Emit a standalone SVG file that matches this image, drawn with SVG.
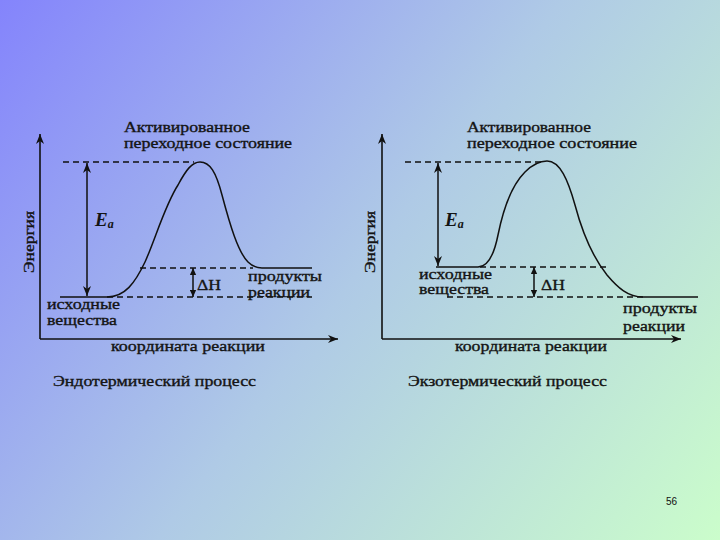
<svg xmlns="http://www.w3.org/2000/svg" width="720" height="540" viewBox="0 0 720 540">
<defs>
<linearGradient id="bg" x1="0" y1="0" x2="720" y2="540" gradientUnits="userSpaceOnUse">
<stop offset="0" stop-color="#8484fc"/>
<stop offset="0.5" stop-color="#afcae6"/>
<stop offset="1" stop-color="#cbfdcb"/>
</linearGradient>
<marker id="ah" viewBox="0 0 10 10" refX="10" refY="5" markerWidth="10" markerHeight="10" markerUnits="userSpaceOnUse" orient="auto-start-reverse">
<path d="M0,1 L10,5 L0,9 L3,5 Z" fill="#111"/>
</marker>
<marker id="sh" viewBox="0 0 10 10" refX="10" refY="5" markerWidth="9" markerHeight="7" markerUnits="userSpaceOnUse" orient="auto-start-reverse">
<path d="M0,0.5 L10,5 L0,9.5 Z" fill="#111"/>
</marker>
</defs>
<style>
.t{font-family:"Liberation Serif","DejaVu Serif",serif;font-size:15px;fill:#141414;stroke:#141414;stroke-width:0.35}
.ax{stroke:#111;stroke-width:1.6;fill:none}
.sol{stroke:#111;stroke-width:1.5;fill:none}
.dash{stroke:#111;stroke-width:1.3;fill:none;stroke-dasharray:6 4}
.ea{font-family:"Liberation Serif","DejaVu Serif",serif;font-weight:bold;font-style:italic;fill:#141414}
</style>
<rect width="720" height="540" fill="url(#bg)"/>

<g id="connectors">
<line class="ax" x1="40" y1="339" x2="40" y2="134" marker-end="url(#ah)"/>
<line class="ax" x1="40" y1="339" x2="338" y2="339" marker-end="url(#ah)"/>
<line class="dash" x1="63" y1="162" x2="194" y2="162"/>
<line class="dash" x1="140" y1="268" x2="253" y2="268"/>
<line class="dash" x1="107" y1="297" x2="312" y2="297"/>
<path class="sol" d="M60,297 L107,297 C125,297 135,283 145,262 C155,240 165,205 178,185 C186,170 192,162 200,162 C210,162 216,172 222,195 C230,225 238,252 248,262 C253,267 258,268 262,268 L312,268"/>
<line class="sol" x1="87" y1="163" x2="87" y2="296" marker-start="url(#ah)" marker-end="url(#ah)"/>
<line class="sol" x1="193" y1="268" x2="193" y2="297" marker-start="url(#sh)" marker-end="url(#sh)"/>
<line class="ax" x1="382" y1="339" x2="382" y2="134" marker-end="url(#ah)"/>
<line class="ax" x1="382" y1="339" x2="681" y2="339" marker-end="url(#ah)"/>
<line class="dash" x1="405" y1="162" x2="542" y2="162"/>
<line class="dash" x1="480" y1="267" x2="608" y2="267"/>
<line class="dash" x1="447" y1="297" x2="643" y2="297"/>
<path class="sol" d="M436,267 L478,267 C488,267 494,255 498,235 C503,210 512,185 525,172 C533,164 540,161 547,161 C560,161 568,180 575,205 C583,235 595,260 607,275 C618,288 628,297 643,297 L698,297"/>
<line class="sol" x1="438" y1="163" x2="438" y2="266" marker-start="url(#ah)" marker-end="url(#ah)"/>
<line class="sol" x1="534" y1="267" x2="534" y2="297" marker-start="url(#sh)" marker-end="url(#sh)"/>
</g>

<g id="endo">
<text class="t" x="124" y="132" textLength="126" lengthAdjust="spacingAndGlyphs">Активированное</text>
<text class="t" x="124" y="148" textLength="168" lengthAdjust="spacingAndGlyphs">переходное состояние</text>
<text class="t" font-size="16" transform="translate(34,242) rotate(-90)" text-anchor="middle" textLength="62" lengthAdjust="spacingAndGlyphs">Энергия</text>
<text class="ea" x="95" y="226" font-size="19">E<tspan font-size="12" dy="2">a</tspan></text>
<text class="t" font-size="18" x="197" y="290" textLength="24" lengthAdjust="spacingAndGlyphs">ΔH</text>
<text class="t" x="248" y="281" textLength="74" lengthAdjust="spacingAndGlyphs">продукты</text>
<text class="t" x="248" y="297" textLength="62" lengthAdjust="spacingAndGlyphs">реакции</text>
<text class="t" x="47" y="309" textLength="73" lengthAdjust="spacingAndGlyphs">исходные</text>
<text class="t" x="47" y="325" textLength="70" lengthAdjust="spacingAndGlyphs">вещества</text>
<text class="t" font-size="16" x="111" y="351" textLength="154" lengthAdjust="spacingAndGlyphs">координата реакции</text>
<text class="t" font-size="16" x="53" y="386" textLength="203" lengthAdjust="spacingAndGlyphs">Эндотермический процесс</text>
</g>

<g id="exo">
<text class="t" x="467" y="132" textLength="124" lengthAdjust="spacingAndGlyphs">Активированное</text>
<text class="t" x="467" y="148" textLength="170" lengthAdjust="spacingAndGlyphs">переходное состояние</text>
<text class="t" font-size="16" transform="translate(375,242) rotate(-90)" text-anchor="middle" textLength="62" lengthAdjust="spacingAndGlyphs">Энергия</text>
<text class="ea" x="445" y="226" font-size="19">E<tspan font-size="12" dy="2">a</tspan></text>
<text class="t" font-size="18" x="541" y="290" textLength="24" lengthAdjust="spacingAndGlyphs">ΔH</text>
<text class="t" x="419" y="279" textLength="73" lengthAdjust="spacingAndGlyphs">исходные</text>
<text class="t" x="419" y="294" textLength="70" lengthAdjust="spacingAndGlyphs">вещества</text>
<text class="t" x="623" y="313" textLength="74" lengthAdjust="spacingAndGlyphs">продукты</text>
<text class="t" x="623" y="331" textLength="62" lengthAdjust="spacingAndGlyphs">реакции</text>
<text class="t" font-size="16" x="455" y="351" textLength="152" lengthAdjust="spacingAndGlyphs">координата реакции</text>
<text class="t" font-size="16" x="408" y="386" textLength="199" lengthAdjust="spacingAndGlyphs">Экзотермический процесс</text>
</g>

<g id="pagenum">
<text x="666" y="505" font-family="Liberation Sans, Arial, sans-serif" font-size="10" fill="#111">56</text>
</g>
</svg>
